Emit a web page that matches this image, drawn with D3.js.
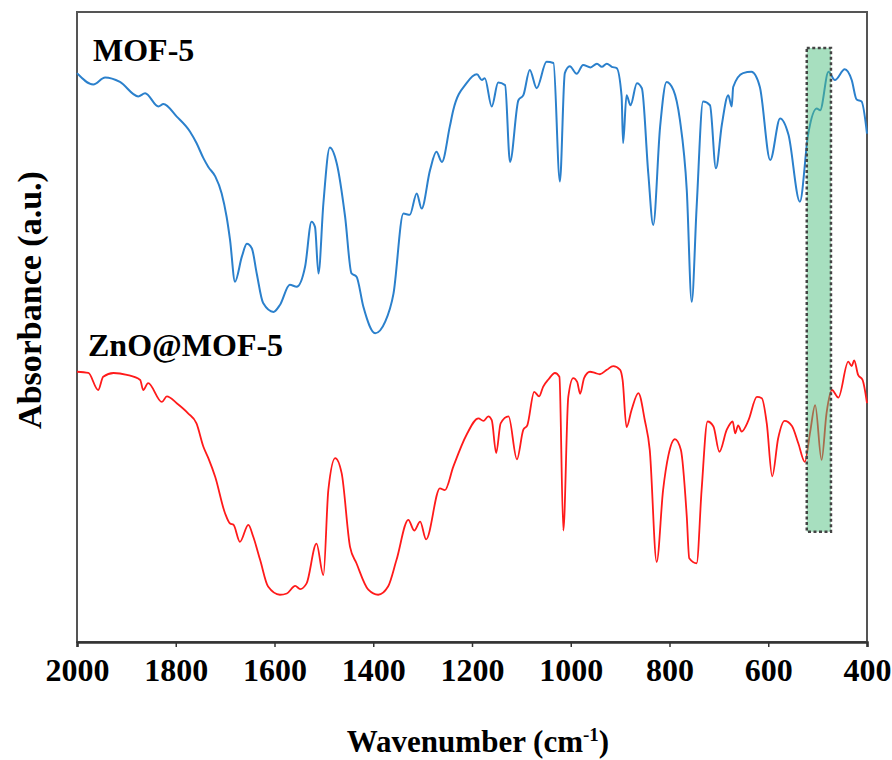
<!DOCTYPE html>
<html>
<head>
<meta charset="utf-8">
<script src="https://cdn.jsdelivr.net/npm/d3@7"></script>
<style>
  body { margin: 0; background: #fff; }
  svg { display: block; font-family: "Liberation Serif", "Times New Roman", serif; font-weight: bold; }
</style>
</head>
<body>
<svg id="svg1" width="892" height="760"></svg>
<script>
// wavenumber (cm-1) and absorbance (a.u.)
var mofWavenumber = [2000,1967,1943,1913,1876,1862,1835,1825,1798,1771,1758,1744,1734,1720,1707,1697,1690,1680,1666,1656,1646,1636,1623,1602,1589,1569,1555,1538,1525,1518,1511,1501,1488,1474,1457,1444,1434,1420,1396,1376,1359,1339,1326,1312,1302,1285,1272,1261,1245,1238,1211,1190,1180,1174,1160,1147,1133,1123,1106,1096,1083,1069,1049,1035,1022,1012,1002,988,975,960,947,937,927,917,907,897,894,887,879,866,856,843,833,819,806,792,779,765,755,745,732,718,706,694,681,674,671,651,634,617,596,576,559,536,519,502,495,478,465,445,431,421,411,400];
var mofValues = [90.3,88.5,89.6,88.9,86.6,87.1,85.0,85.4,83.4,81.0,79.2,76.8,75.4,73.9,71.2,67.5,63.8,57.2,61.2,63.2,62.5,58.5,53.8,52.4,53.5,56.7,56.4,59.6,66.7,65.9,58.5,69.6,78.5,76.0,67.5,58.5,58.0,53.2,49.0,50.8,55.3,68.0,67.8,71.2,68.8,74.9,77.8,76.2,81.8,84.4,88.7,90.1,89.2,89.5,85.0,88.8,88.4,76.2,86.0,86.8,90.8,87.9,92.1,91.9,73.1,90.3,91.4,90.2,91.6,91.2,91.8,91.3,91.8,91.3,91.1,86.6,79.2,86.8,85.2,88.7,87.9,74.4,66.2,81.8,88.9,87.6,82.9,71.7,54.0,69.1,85.8,85.2,75.2,82.1,86.8,85.0,88.1,90.3,90.5,88.1,76.5,83.1,80.5,69.9,80.7,84.7,84.4,90.5,89.2,90.9,89.2,86.1,85.8,80.7];

var znoWavenumber = [2000,1977,1957,1947,1926,1899,1872,1866,1856,1828,1818,1798,1775,1758,1744,1734,1720,1700,1690,1683,1670,1653,1643,1629,1613,1589,1575,1558,1548,1535,1515,1501,1491,1477,1464,1447,1434,1410,1390,1370,1353,1329,1317,1305,1293,1265,1255,1238,1211,1187,1177,1167,1160,1151,1142,1126,1109,1096,1088,1074,1064,1056,1045,1032,1023,1015,1005,995,987,981,973,961,951,941,927,914,900,895,887,877,863,850,840,826,813,802,789,777,765,760,745,735,723,711,699,684,672,667,661,654,640,623,613,603,592,580,567,552,539,526,515,505,492,482,471,458,438,431,426,418,409,400];
var znoValues = [42.9,42.7,40.0,42.1,42.7,42.4,41.6,40.0,41.1,38.1,39.0,37.9,36.3,34.7,31.0,29.2,26.2,20.4,18.8,18.6,15.9,18.6,16.7,13.0,8.8,7.5,7.7,8.9,8.4,9.3,15.6,10.6,24.1,29.2,26.8,15.1,12.5,8.3,7.5,8.8,13.0,19.4,17.7,19.1,16.3,24.4,24.1,27.8,32.9,35.5,35.1,35.8,35.2,30.0,34.7,35.8,29.0,33.7,34.4,39.7,39.0,40.5,41.7,42.7,42.1,17.7,38.9,41.9,41.3,39.4,41.9,42.9,42.7,42.5,43.2,43.8,43.2,41.6,34.1,36.8,39.5,35.2,30.5,12.7,24.1,29.7,32.2,30.5,19.9,13.3,12.5,24.1,35.0,34.2,30.2,33.7,35.0,33.1,34.4,33.4,35.2,38.9,38.7,34.7,26.3,32.3,35.1,34.3,31.5,28.6,33.4,37.6,28.9,36.3,40.0,38.8,44.5,43.8,44.7,42.4,41.6,37.9];

var xTicks = [2000,1800,1600,1400,1200,1000,800,600,400];
var highlightRange = [522, 473];   // Zn-O band
var highlightValues = [17.5, 94.3];
var seriesNames = ["MOF-5", "ZnO@MOF-5"];

var plotLeft = 77, plotRight = 867, plotTop = 12, plotBottom = 642;

var svg = d3.select('#svg1');

var x = d3.scaleLinear().domain([2000, 400]).range([plotLeft, plotRight]);
var y = d3.scaleLinear().domain([0, 100]).range([plotBottom, plotTop]);

// frame
svg.append('rect')
    .attr('x', plotLeft).attr('y', plotTop)
    .attr('width', plotRight - plotLeft).attr('height', plotBottom - plotTop)
    .attr('fill', 'none')
    .attr('stroke', '#555')
    .attr('stroke-width', 2);

// x axis
var xAxis = svg.append('g')
    .attr('transform', 'translate(0,' + plotBottom + ')')
    .call(d3.axisBottom(x).tickValues(xTicks).tickSize(5).tickPadding(11).tickFormat(d3.format('d')));
xAxis.select('.domain').attr('stroke', '#333').attr('stroke-width', 2.5);
xAxis.selectAll('.tick line').attr('stroke', '#333').attr('stroke-width', 1.5);
xAxis.selectAll('.tick text')
    .attr('fill', '#000')
    .style('font-family', '"Liberation Serif", "Times New Roman", serif')
    .style('font-weight', 'bold')
    .style('font-size', '32px');

// curves
var line = d3.line()
    .x(function(d) { return x(d[0]); })
    .y(function(d) { return y(d[1]); })
    .curve(d3.curveMonotoneX);

var mofData = d3.zip(mofWavenumber, mofValues);
var znoData = d3.zip(znoWavenumber, znoValues);

svg.append('path')
    .datum(mofData)
    .attr('d', line)
    .attr('fill', 'none')
    .attr('stroke', '#2b80cc')
    .attr('stroke-width', 2)
    .attr('stroke-linejoin', 'round');

svg.append('path')
    .datum(znoData)
    .attr('d', line)
    .attr('fill', 'none')
    .attr('stroke', '#ff1a1a')
    .attr('stroke-width', 1.8)
    .attr('stroke-linejoin', 'round');

// highlighted band
svg.append('rect')
    .attr('x', x(highlightRange[0]))
    .attr('y', y(highlightValues[1]))
    .attr('width', x(highlightRange[1]) - x(highlightRange[0]))
    .attr('height', y(highlightValues[0]) - y(highlightValues[1]))
    .attr('fill', '#4fc07f')
    .attr('fill-opacity', 0.5)
    .attr('stroke', '#444')
    .attr('stroke-width', 2.5)
    .attr('stroke-dasharray', '3,2.5');

// series labels
svg.append('text')
    .attr('x', 93).attr('y', 61)
    .style('font-size', '32px')
    .text(seriesNames[0]);

svg.append('text')
    .attr('x', 88).attr('y', 356)
    .style('font-size', '32px')
    .text(seriesNames[1]);

// axis titles
var xt = svg.append('text')
    .attr('x', (plotLeft + plotRight) / 2 + 6).attr('y', 752)
    .attr('text-anchor', 'middle')
    .style('font-size', '31px');
xt.append('tspan').text('Wavenumber (cm');
xt.append('tspan').attr('dy', -11).style('font-size', '19px').text('-1');
xt.append('tspan').attr('dy', 11).text(')');

svg.append('text')
    .attr('transform', 'translate(41,300) rotate(-90)')
    .attr('text-anchor', 'middle')
    .style('font-size', '34px')
    .text('Absorbance (a.u.)');
</script>
</body>
</html>
